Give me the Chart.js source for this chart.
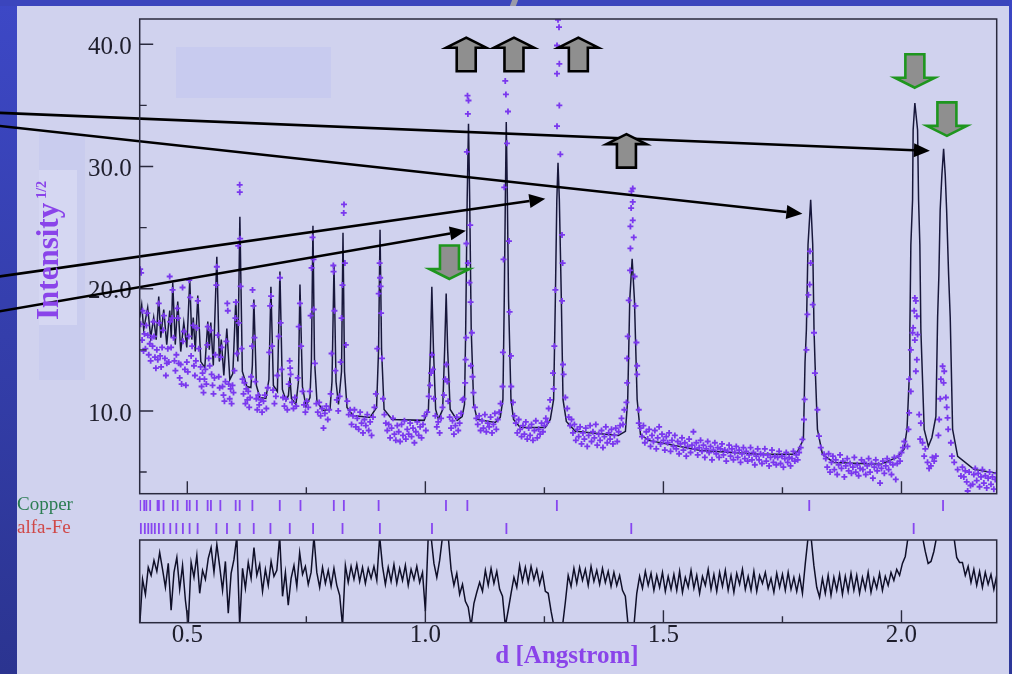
<!DOCTYPE html>
<html><head><meta charset="utf-8">
<script src="https://cdn.jsdelivr.net/npm/chart.js@4.4.1/dist/chart.umd.min.js"></script>
<style>
html,body{margin:0;padding:0;}
body{width:1012px;height:674px;position:relative;overflow:hidden;background:#d0d2ee;font-family:"Liberation Serif",serif;}
.deco{position:absolute;}
canvas{position:absolute;left:0;}
</style></head><body>
<div class="deco" style="left:0;top:0;width:17px;height:674px;background:linear-gradient(#3d48c6,#2b3490);"></div>
<div class="deco" style="left:0;top:0;width:1012px;height:6px;background:#3b45bd;"></div>
<div class="deco" style="left:1009px;top:0;width:3px;height:674px;background:linear-gradient(#3b46c4,#2d3798);"></div>
<div class="deco" style="left:176px;top:47px;width:155px;height:51px;background:#c8cbef;"></div>
<div class="deco" style="left:39px;top:133px;width:46px;height:247px;background:#c9ccee;"></div>
<div class="deco" style="left:39px;top:170px;width:38px;height:155px;background:#d5d7f2;"></div>
<div class="deco" style="left:511px;top:0;width:6px;height:6px;background:#9a9aa8;transform:skewX(-20deg);"></div>
<canvas id="cRefl" width="1012" height="46" style="top:494px;width:1012px;height:46px"></canvas>
<canvas id="cDiff" width="1012" height="144" style="top:530px;width:1012px;height:144px"></canvas>
<canvas id="cMain" width="1012" height="500" style="top:0;width:1012px;height:500px"></canvas>
<script>
// ---------- DATA (d in Angstrom, intensity^1/2) ----------
const yMajorTicks = [10, 20, 30, 40];
const yMinorTicks = [5, 15, 25, 35];
const xMajorTicks = [0.5, 1.0, 1.5, 2.0];
const xMinorTicks = [0.75, 1.25, 1.75];
const phaseNames = ['Copper', 'alfa-Fe'];

const copperRefl = [0.401,0.4095,0.414,0.422,0.4375,0.4403,0.450,0.4697,0.4796,0.499,0.505,0.520,0.5427,0.5496,0.5694,0.6016,0.610,0.6367,0.6942,0.7377,0.8077,0.8288,0.9018,1.0433,1.0882,1.2762,1.8063,2.0873];
const ironRefl = [0.4024,0.4108,0.418,0.4249,0.4318,0.4403,0.4501,0.4642,0.4769,0.4907,0.5048,0.5217,0.561,0.5833,0.610,0.6395,0.6746,0.7152,0.7642,0.826,0.9045,1.0139,1.1702,1.4325,2.0256];

const calcProfile = [
[0.400,17.64],[0.4042,18.70],[0.4084,16.66],[0.4168,18.46],[0.4231,16.00],[0.4294,17.64],[0.4347,15.84],[0.4400,19.36],[0.4442,16.00],[0.4505,18.29],
[0.4568,15.43],[0.4631,18.21],[0.4663,16.00],[0.4694,20.50],[0.4747,15.43],[0.4799,18.95],[0.4862,14.86],[0.4926,17.23],[0.4989,15.19],[0.5052,20.74],
[0.5094,15.84],[0.5125,17.64],[0.5167,14.86],[0.5220,19.44],[0.5283,14.04],[0.5367,13.55],[0.5430,17.31],[0.5462,15.02],[0.5493,17.23],[0.5546,13.72],
[0.5620,22.62],[0.5672,14.04],[0.5714,15.84],[0.5767,12.90],[0.5830,16.74],[0.5893,12.57],[0.5956,13.06],[0.6019,19.11],[0.6061,14.04],[0.6104,25.89],
[0.6156,13.23],[0.6251,12.00],[0.6335,11.92],[0.6366,13.72],[0.6398,19.11],[0.6451,12.08],[0.6524,11.10],[0.6650,11.02],[0.6714,12.57],[0.6756,20.17],
[0.6808,12.08],[0.6892,11.59],[0.6945,21.40],[0.6997,11.76],[0.7071,10.86],[0.7124,11.27],[0.7155,12.75],[0.7187,11.02],[0.7281,10.53],[0.7334,12.41],
[0.7366,20.34],[0.7418,12.00],[0.7492,10.37],[0.7576,11.10],[0.7607,14.21],[0.7639,25.16],[0.7671,14.21],[0.7723,10.78],[0.7849,10.04],[0.7997,10.12],
[0.8039,12.41],[0.8081,21.97],[0.8123,12.41],[0.8175,10.53],[0.8239,13.23],[0.8270,24.58],[0.8302,13.23],[0.8354,10.29],[0.8480,9.63],[0.8838,9.47],
[0.8975,10.29],[0.9017,15.02],[0.9048,24.83],[0.9080,15.02],[0.9133,10.12],[0.9301,9.31],[0.9974,9.23],[1.0064,10.12],[1.0106,15.02],[1.0136,20.17],
[1.0170,15.02],[1.0216,10.12],[1.0275,9.31],[1.0363,10.12],[1.0405,15.02],[1.0437,19.60],[1.0468,15.02],[1.0521,10.12],[1.0668,9.23],[1.0773,9.55],
[1.0822,10.53],[1.0847,16.66],[1.0878,27.28],[1.0906,33.49],[1.0931,27.28],[1.0963,16.66],[1.1015,10.53],[1.1089,9.31],[1.1467,9.06],[1.1573,9.47],
[1.1629,10.94],[1.1657,19.11],[1.1682,28.10],[1.1699,33.65],[1.1720,28.10],[1.1747,19.11],[1.1798,10.94],[1.1852,9.31],[1.1993,8.65],[1.2519,8.65],
[1.2624,9.31],[1.2694,10.94],[1.2730,19.11],[1.2761,27.28],[1.2786,30.30],[1.2814,27.28],[1.2856,19.11],[1.2891,10.94],[1.2961,9.14],[1.3150,8.33],
[1.4055,8.00],[1.4202,8.33],[1.4250,10.94],[1.4293,19.11],[1.4343,22.46],[1.4391,19.11],[1.4448,10.94],[1.4518,8.08],[1.4686,7.59],[1.5780,6.77],
[1.7042,6.45],[1.7715,6.45],[1.7820,6.69],[1.7940,7.67],[1.7974,13.96],[1.8003,16.66],[1.8037,23.60],[1.8093,27.28],[1.8136,23.60],[1.8163,16.66],
[1.8184,13.96],[1.8235,8.49],[1.8340,6.45],[1.8577,5.79],[1.9566,5.63],[1.9902,6.20],[2.0053,6.86],[2.0116,8.49],[2.0161,12.57],[2.0176,16.66],
[2.0197,23.60],[2.0233,27.28],[2.0245,33.00],[2.0281,35.20],[2.0338,33.00],[2.0359,27.28],[2.0386,23.60],[2.0407,16.66],[2.0477,8.49],[2.0565,7.10],
[2.0639,7.83],[2.0723,9.55],[2.0759,17.64],[2.0786,21.15],[2.0813,26.46],[2.0849,29.32],[2.0885,31.45],[2.0919,29.32],[2.0948,26.46],[2.0990,21.15],
[2.1024,17.64],[2.1074,8.49],[2.1180,6.28],[2.1522,5.22],[2.2021,4.89]
];

const obsPoints = [
[0.401,21.6],[0.402,17.1],[0.403,21.3],[0.405,15.8],[0.406,18.2],[0.408,14.9],[0.410,16.3],[0.412,15.1],[0.414,17.0],[0.416,18.0],
[0.417,16.2],[0.419,14.6],[0.421,15.5],[0.423,14.1],[0.425,16.0],[0.427,15.3],[0.429,17.3],[0.430,16.1],[0.432,14.4],[0.434,13.5],
[0.436,15.0],[0.438,14.2],[0.440,18.8],[0.441,17.2],[0.443,14.5],[0.445,13.6],[0.447,15.2],[0.449,16.6],[0.451,17.8],[0.453,14.3],
[0.455,12.9],[0.457,13.9],[0.459,15.1],[0.461,14.0],[0.463,21.0],[0.464,17.3],[0.466,15.2],[0.468,17.6],[0.469,19.9],[0.471,16.0],
[0.473,14.1],[0.475,13.3],[0.477,14.6],[0.479,18.4],[0.480,17.6],[0.482,13.9],[0.484,12.7],[0.486,13.8],[0.488,12.2],[0.490,20.1],
[0.491,15.7],[0.493,16.5],[0.495,13.4],[0.497,12.1],[0.499,14.0],[0.501,13.2],[0.503,16.1],[0.504,20.7],[0.506,19.3],[0.508,14.5],
[0.510,15.3],[0.512,17.0],[0.514,13.7],[0.516,12.9],[0.518,14.1],[0.520,16.8],[0.522,19.0],[0.524,15.1],[0.526,12.6],[0.528,13.6],
[0.530,12.0],[0.532,13.1],[0.534,11.5],[0.536,12.6],[0.538,13.4],[0.540,12.2],[0.542,15.4],[0.543,16.9],[0.545,14.3],[0.547,13.7],
[0.549,16.6],[0.551,13.0],[0.553,12.1],[0.555,11.4],[0.557,12.7],[0.559,14.6],[0.561,20.3],[0.562,21.8],[0.564,16.2],[0.566,12.8],
[0.568,11.9],[0.570,14.4],[0.572,15.2],[0.574,12.0],[0.576,11.3],[0.578,10.8],[0.580,12.4],[0.582,15.7],[0.584,18.8],[0.585,18.2],
[0.587,12.2],[0.589,11.0],[0.591,11.8],[0.593,10.6],[0.595,12.1],[0.597,11.5],[0.599,13.3],[0.601,17.6],[0.602,18.9],[0.604,14.7],
[0.607,23.5],[0.608,17.2],[0.610,28.5],[0.6102,27.9],[0.611,24.1],[0.612,20.2],[0.614,15.1],[0.616,12.6],[0.618,11.4],[0.620,12.3],
[0.622,10.6],[0.624,11.8],[0.626,10.9],[0.628,11.6],[0.630,10.3],[0.632,11.1],[0.634,12.8],[0.636,15.3],[0.637,19.9],[0.639,18.6],
[0.641,16.0],[0.643,12.4],[0.645,11.0],[0.647,10.1],[0.649,11.3],[0.651,10.5],[0.654,10.9],[0.657,9.9],[0.660,10.8],[0.663,11.3],
[0.666,10.2],[0.669,11.9],[0.672,14.8],[0.674,18.6],[0.676,19.4],[0.678,15.3],[0.680,11.7],[0.683,10.6],[0.686,11.2],[0.689,12.9],
[0.692,16.1],[0.6945,20.9],[0.696,17.2],[0.698,13.4],[0.701,11.1],[0.704,10.4],[0.707,11.0],[0.710,10.1],[0.713,12.2],[0.715,14.1],
[0.716,13.5],[0.717,13.0],[0.720,10.7],[0.723,10.2],[0.726,11.1],[0.729,10.4],[0.732,12.7],[0.734,16.9],[0.7366,18.8],[0.739,15.3],
[0.742,11.6],[0.745,10.5],[0.748,9.9],[0.751,10.8],[0.754,10.3],[0.757,11.6],[0.759,17.8],[0.761,21.7],[0.763,24.2],[0.765,22.4],
[0.7655,18.3],[0.768,13.9],[0.771,10.6],[0.774,9.9],[0.777,10.7],[0.780,9.6],[0.783,10.2],[0.786,8.6],[0.789,9.8],[0.792,10.4],
[0.795,9.3],[0.798,10.1],[0.801,11.4],[0.803,14.7],[0.8067,21.9],[0.8072,21.4],[0.809,18.2],[0.811,13.3],[0.814,10.9],[0.817,10.0],
[0.820,11.2],[0.822,14.0],[0.824,17.6],[0.826,20.3],[0.8285,26.2],[0.8291,26.9],[0.831,22.1],[0.833,15.4],[0.836,10.8],[0.839,9.7],
[0.842,10.1],[0.845,8.9],[0.848,9.6],[0.851,10.1],[0.854,8.7],[0.857,9.4],[0.860,8.5],[0.863,9.9],[0.866,9.0],[0.869,8.2],
[0.872,9.3],[0.875,8.8],[0.878,9.7],[0.881,8.4],[0.884,9.1],[0.887,8.0],[0.890,9.5],[0.893,10.3],[0.896,11.4],[0.899,15.1],
[0.902,19.6],[0.904,22.1],[0.905,20.9],[0.906,20.2],[0.907,18.0],[0.909,14.3],[0.911,11.0],[0.914,9.7],[0.917,9.0],[0.920,8.4],
[0.923,8.9],[0.926,7.8],[0.929,8.6],[0.932,9.4],[0.935,8.1],[0.938,7.6],[0.941,8.8],[0.944,8.3],[0.947,7.5],[0.950,8.9],
[0.953,8.0],[0.956,9.2],[0.959,7.7],[0.962,8.5],[0.965,8.1],[0.968,9.0],[0.971,7.9],[0.974,8.6],[0.977,7.4],[0.980,8.3],
[0.983,9.1],[0.986,8.0],[0.989,8.7],[0.992,7.8],[0.995,8.9],[0.998,9.6],[1.001,8.4],[1.004,9.9],[1.007,11.2],[1.010,12.1],
[1.012,13.1],[1.014,14.6],[1.016,13.4],[1.018,11.0],[1.021,9.6],[1.024,8.7],[1.027,9.1],[1.030,8.2],[1.033,9.4],[1.036,10.3],
[1.039,11.3],[1.042,12.6],[1.044,13.8],[1.046,12.4],[1.048,10.8],[1.051,9.5],[1.054,8.6],[1.057,9.2],[1.060,8.1],[1.063,8.8],
[1.066,9.5],[1.069,8.4],[1.072,9.0],[1.075,9.8],[1.078,10.9],[1.0801,11.0],[1.0836,12.3],[1.0845,14.2],[1.0857,16.0],[1.0862,23.7],
[1.0872,31.2],[1.0885,35.8],[1.0893,34.3],[1.0906,35.4],[1.0893,22.1],[1.0927,20.5],[1.0942,25.2],[1.0950,18.9],[1.0956,13.7],[1.0977,16.4],
[1.0990,12.8],[1.1011,11.5],[1.104,10.3],[1.107,9.4],[1.110,8.9],[1.113,9.6],[1.116,8.4],[1.119,9.2],[1.122,8.6],[1.125,9.7],
[1.128,8.3],[1.131,9.0],[1.134,8.7],[1.137,9.5],[1.140,8.2],[1.143,8.9],[1.146,9.8],[1.149,8.5],[1.152,9.3],[1.155,9.9],
[1.158,10.6],[1.1621,12.0],[1.1629,14.8],[1.1642,22.4],[1.1657,28.3],[1.1678,37.0],[1.1692,35.9],[1.1714,31.9],[1.1735,34.5],[1.1756,23.9],
[1.1769,18.1],[1.1798,14.5],[1.1804,12.0],[1.184,10.7],[1.187,9.6],[1.190,9.0],[1.193,8.2],[1.196,9.3],[1.199,8.5],[1.202,7.9],
[1.205,8.8],[1.208,8.1],[1.211,9.1],[1.214,7.7],[1.217,8.6],[1.220,8.0],[1.223,8.9],[1.226,7.6],[1.229,8.4],[1.232,9.2],
[1.235,7.8],[1.238,8.5],[1.241,8.1],[1.244,9.0],[1.247,8.3],[1.250,8.8],[1.253,9.4],[1.256,9.1],[1.259,10.2],[1.262,10.9],
[1.2681,13.1],[1.2694,11.8],[1.2709,15.3],[1.2730,19.9],[1.2765,39.9],[1.2765,33.3],[1.2786,42.0],[1.2807,41.4],[1.2814,38.4],[1.2765,37.6],
[1.2814,35.0],[1.2835,31.0],[1.2870,24.4],[1.2883,22.1],[1.2870,19.0],[1.2891,13.8],[1.2904,13.0],[1.2940,11.1],[1.298,10.2],[1.301,9.5],
[1.304,8.8],[1.307,9.3],[1.310,8.2],[1.313,8.9],[1.316,7.6],[1.319,8.5],[1.322,7.9],[1.325,8.7],[1.328,7.3],[1.331,8.2],
[1.334,7.7],[1.337,8.6],[1.340,7.1],[1.343,8.0],[1.346,8.8],[1.349,7.5],[1.352,8.3],[1.355,7.8],[1.358,8.9],[1.361,7.2],
[1.364,8.1],[1.367,7.6],[1.370,8.4],[1.373,7.0],[1.376,7.9],[1.379,8.7],[1.382,7.4],[1.385,8.2],[1.388,7.7],[1.391,8.5],
[1.394,7.3],[1.397,8.0],[1.400,8.6],[1.403,7.5],[1.406,8.3],[1.409,8.8],[1.412,9.4],[1.415,8.9],[1.418,10.1],[1.4223,10.7],
[1.4238,12.3],[1.4238,14.3],[1.4250,16.1],[1.4271,19.05],[1.4300,21.5],[1.4307,23.3],[1.4307,25.1],[1.4322,26.6],[1.4328,27.96],[1.4356,28.2],
[1.4356,27.1],[1.4356,25.6],[1.4377,24.2],[1.4395,21.0],[1.4412,18.6],[1.4433,15.6],[1.4448,13.7],[1.4448,13.0],[1.4482,10.1],[1.4482,9.0],
[1.452,8.6],[1.455,7.9],[1.458,8.8],[1.461,7.4],[1.464,8.3],[1.467,7.7],[1.470,8.5],[1.473,7.1],[1.476,8.0],[1.479,7.5],
[1.482,8.4],[1.485,6.9],[1.488,7.8],[1.491,8.7],[1.494,7.3],[1.497,8.1],[1.500,7.6],[1.503,6.8],[1.506,7.9],[1.509,7.4],
[1.512,8.2],[1.515,6.7],[1.518,7.6],[1.521,7.1],[1.524,8.0],[1.527,6.9],[1.530,7.5],[1.533,6.5],[1.536,7.3],[1.539,7.8],
[1.542,6.8],[1.545,7.4],[1.548,6.3],[1.551,7.1],[1.554,7.7],[1.557,6.6],[1.560,7.2],[1.563,8.3],[1.566,6.9],[1.569,7.4],
[1.572,6.4],[1.575,7.0],[1.578,7.6],[1.581,6.7],[1.584,7.2],[1.587,6.2],[1.590,6.9],[1.593,7.5],[1.596,6.6],[1.599,7.1],
[1.602,6.0],[1.605,6.8],[1.608,7.4],[1.611,6.5],[1.614,7.0],[1.617,6.2],[1.620,6.9],[1.623,7.3],[1.626,6.4],[1.629,6.8],
[1.632,5.9],[1.635,6.7],[1.638,7.2],[1.641,6.3],[1.644,6.9],[1.647,6.0],[1.650,6.6],[1.653,7.1],[1.656,6.2],[1.659,6.8],
[1.662,5.8],[1.665,6.5],[1.668,7.0],[1.671,6.1],[1.674,6.7],[1.677,5.9],[1.680,6.4],[1.683,7.0],[1.686,6.0],[1.689,6.6],
[1.692,5.6],[1.695,6.3],[1.698,6.9],[1.701,6.0],[1.704,6.5],[1.707,5.7],[1.710,6.4],[1.713,6.9],[1.716,5.9],[1.719,6.4],
[1.722,5.5],[1.725,6.2],[1.728,6.8],[1.731,5.8],[1.734,6.3],[1.737,5.6],[1.740,6.2],[1.743,6.7],[1.746,5.7],[1.749,6.3],
[1.752,5.4],[1.755,6.1],[1.758,6.6],[1.761,5.8],[1.764,6.2],[1.767,5.5],[1.770,6.1],[1.773,6.7],[1.776,5.9],[1.779,6.4],
[1.782,6.0],[1.785,6.6],[1.7883,7.0],[1.7919,7.67],[1.7953,9.3],[1.7967,10.94],[1.8003,15.0],[1.8024,17.9],[1.8045,19.5],[1.8072,20.34],
[1.8079,23.06],[1.8093,22.1],[1.8136,18.7],[1.8163,16.4],[1.8182,13.1],[1.8235,10.1],[1.8268,7.94],[1.8305,7.0],[1.8374,6.45],[1.841,6.1],
[1.844,5.4],[1.847,6.5],[1.850,5.0],[1.853,5.8],[1.856,6.3],[1.859,5.2],[1.862,6.0],[1.865,4.8],[1.868,5.6],[1.871,6.4],
[1.874,5.3],[1.877,5.9],[1.880,4.6],[1.883,5.5],[1.886,6.1],[1.889,5.1],[1.892,5.7],[1.895,4.9],[1.898,5.4],[1.901,6.2],
[1.904,5.0],[1.907,5.6],[1.910,4.7],[1.913,5.3],[1.916,6.0],[1.919,5.2],[1.922,5.8],[1.925,4.8],[1.928,5.5],[1.931,6.1],
[1.934,5.0],[1.937,5.7],[1.940,4.5],[1.943,5.4],[1.946,6.0],[1.949,5.1],[1.952,5.6],[1.955,4.1],[1.958,5.3],[1.961,5.9],
[1.964,4.9],[1.967,5.5],[1.970,6.1],[1.973,5.2],[1.976,5.8],[1.979,4.8],[1.982,5.6],[1.985,6.2],[1.988,4.4],[1.991,5.7],
[1.994,6.3],[1.997,5.9],[2.000,6.6],[2.003,7.0],[2.006,7.5],[2.0126,7.1],[2.0147,8.5],[2.0161,9.85],[2.0161,12.6],[2.0197,15.0],
[2.0197,11.6],[2.0233,16.4],[2.0245,16.8],[2.0267,18.2],[2.0281,19.25],[2.0281,15.8],[2.0302,19.0],[2.0302,13.25],[2.0323,17.75],[2.0323,14.2],
[2.0338,16.25],[2.0372,9.7],[2.0393,7.7],[2.0407,9.0],[2.0442,7.4],[2.0477,6.3],[2.050,6.9],[2.0547,5.8],[2.058,5.3],[2.0617,5.5],
[2.065,6.2],[2.0687,5.9],[2.0723,6.3],[2.0776,8.0],[2.0792,9.3],[2.0815,11.0],[2.0828,12.6],[2.0864,13.66],[2.0885,12.3],[2.0898,13.25],
[2.0933,11.1],[2.0950,10.3],[2.0968,9.44],[2.0981,8.5],[2.1038,7.4],[2.1059,6.3],[2.1108,5.8],[2.1180,5.2],[2.1249,4.67],[2.128,5.4],
[2.131,4.6],[2.134,5.1],[2.137,4.2],[2.1390,3.45],[2.142,5.0],[2.145,3.9],[2.1495,4.0],[2.152,4.8],[2.155,5.3],[2.158,4.3],
[2.161,4.9],[2.164,3.8],[2.167,4.6],[2.170,5.2],[2.173,4.1],[2.176,4.7],[2.179,3.7],[2.182,4.5],[2.185,5.0],[2.188,4.0],
[2.191,4.6],[2.194,3.6],[2.197,4.4],[2.200,4.9]
];

const diffProfile = [
[0.400,-4.5],[0.406,0.2],[0.412,-1.3],[0.418,1.4],[0.424,0.6],[0.430,2.1],[0.436,1.0],[0.442,2.9],[0.448,1.2],[0.454,-0.6],
[0.460,1.8],[0.466,-2.9],[0.472,0.9],[0.478,2.4],[0.484,-0.8],[0.490,1.6],[0.496,-1.9],[0.502,-4.3],[0.508,1.9],[0.514,0.4],
[0.520,2.6],[0.526,-1.2],[0.532,1.1],[0.538,0.2],[0.544,2.3],[0.550,3.4],[0.556,0.9],[0.562,3.7],[0.568,1.5],[0.574,-0.9],
[0.580,2.0],[0.586,-3.2],[0.592,0.8],[0.598,2.2],[0.604,4.5],[0.610,-4.5],[0.616,1.3],[0.622,-0.7],[0.628,1.9],[0.634,0.3],
[0.640,3.4],[0.646,0.6],[0.652,1.7],[0.658,-1.0],[0.664,1.2],[0.670,-0.4],[0.676,2.0],[0.682,0.5],[0.688,1.1],[0.694,4.5],
[0.700,-1.5],[0.706,0.9],[0.712,-2.4],[0.718,0.3],[0.724,1.6],[0.730,-0.5],[0.736,2.9],[0.742,0.7],[0.748,1.5],[0.754,-0.3],
[0.760,0.9],[0.766,4.5],[0.772,0.9],[0.778,-0.6],[0.784,1.4],[0.790,-0.2],[0.796,1.1],[0.802,-0.5],[0.808,1.3],[0.814,-0.4],
[0.820,-1.4],[0.826,-4.5],[0.832,1.6],[0.838,-0.1],[0.844,1.5],[0.850,0.2],[0.856,1.7],[0.862,0.0],[0.868,1.4],[0.874,-0.2],
[0.880,1.3],[0.886,0.3],[0.892,1.5],[0.898,0.1],[0.904,4.5],[0.910,1.5],[0.916,-0.3],[0.922,1.4],[0.928,0.0],[0.934,1.7],
[0.940,-0.2],[0.946,1.3],[0.952,0.1],[0.958,1.6],[0.964,-0.4],[0.970,1.2],[0.976,0.2],[0.982,1.5],[0.988,-0.1],[0.994,0.9],
[1.000,-3.0],[1.006,4.5],[1.012,4.5],[1.018,1.8],[1.024,0.4],[1.030,2.1],[1.036,4.5],[1.042,4.5],[1.048,4.5],[1.054,1.2],
[1.060,-0.4],[1.066,0.8],[1.072,-1.3],[1.078,-0.3],[1.084,-2.0],[1.090,-2.6],[1.096,-4.5],[1.102,-2.2],[1.108,-1.1],[1.114,-0.1],
[1.120,-1.0],[1.126,1.1],[1.132,-0.4],[1.138,1.3],[1.144,-0.2],[1.150,1.0],[1.156,-0.8],[1.162,-1.5],[1.168,-4.5],[1.174,-2.9],
[1.180,-1.2],[1.186,0.4],[1.192,-0.6],[1.198,1.6],[1.204,0.0],[1.210,1.4],[1.216,-0.1],[1.222,1.5],[1.228,0.2],[1.234,1.2],
[1.240,-0.3],[1.246,0.8],[1.252,-1.0],[1.258,-1.2],[1.264,-3.0],[1.270,-4.5],[1.276,-4.5],[1.282,-4.5],[1.288,-4.5],[1.294,-2.1],
[1.300,0.6],[1.306,-0.5],[1.312,1.3],[1.318,-0.2],[1.324,1.4],[1.330,0.1],[1.336,1.2],[1.342,-0.4],[1.348,1.5],[1.354,0.0],
[1.360,1.1],[1.366,-0.3],[1.372,1.3],[1.378,-0.1],[1.384,1.0],[1.390,-0.5],[1.396,0.9],[1.402,-0.4],[1.408,0.6],[1.414,-0.9],
[1.420,-1.5],[1.426,-4.5],[1.432,-4.5],[1.438,-4.5],[1.444,-1.2],[1.450,0.5],[1.456,-0.7],[1.462,1.0],[1.468,-0.4],[1.474,0.8],
[1.480,-0.9],[1.486,0.6],[1.492,-0.6],[1.498,0.9],[1.504,-1.0],[1.510,0.5],[1.516,-0.8],[1.522,0.7],[1.528,-0.9],[1.534,1.0],
[1.540,-1.1],[1.546,0.4],[1.552,-0.6],[1.558,1.1],[1.564,-0.7],[1.570,0.6],[1.576,-1.2],[1.582,0.5],[1.588,-0.4],[1.594,1.2],
[1.600,-0.8],[1.606,0.7],[1.612,-1.0],[1.618,0.9],[1.624,-0.5],[1.630,1.1],[1.636,-0.9],[1.642,0.6],[1.648,-1.1],[1.654,0.8],
[1.660,-0.3],[1.666,1.2],[1.672,-0.8],[1.678,0.5],[1.684,-0.9],[1.690,1.0],[1.696,-1.0],[1.702,0.6],[1.708,-0.2],[1.714,0.9],
[1.720,-0.7],[1.726,0.3],[1.732,-1.1],[1.738,0.8],[1.744,-0.6],[1.750,0.7],[1.756,-0.9],[1.762,0.9],[1.768,-0.8],[1.774,0.4],
[1.780,-1.0],[1.786,0.5],[1.792,-1.2],[1.798,1.8],[1.804,4.5],[1.810,4.5],[1.816,1.6],[1.822,-0.6],[1.828,-1.6],[1.834,0.3],
[1.840,-1.2],[1.846,0.6],[1.852,-1.4],[1.858,0.4],[1.864,-0.9],[1.870,0.7],[1.876,-1.3],[1.882,0.5],[1.888,-1.0],[1.894,0.8],
[1.900,-0.9],[1.906,0.6],[1.912,-1.2],[1.918,0.4],[1.924,-0.8],[1.930,0.9],[1.936,-1.1],[1.942,0.3],[1.948,-0.7],[1.954,0.8],
[1.960,-0.9],[1.966,0.5],[1.972,-0.4],[1.978,0.9],[1.984,0.1],[1.990,1.2],[1.996,0.6],[2.002,1.8],[2.008,2.5],[2.014,4.5],
[2.020,4.5],[2.026,4.5],[2.032,4.5],[2.038,4.5],[2.044,4.5],[2.050,3.0],[2.056,1.8],[2.062,2.0],[2.068,3.0],[2.074,4.5],
[2.080,4.5],[2.086,4.5],[2.092,4.5],[2.098,4.5],[2.104,4.5],[2.110,4.5],[2.116,2.4],[2.122,1.9],[2.128,1.9],[2.134,0.6],
[2.140,1.5],[2.146,-0.1],[2.152,1.2],[2.158,-0.4],[2.164,1.0],[2.170,-0.6],[2.176,0.9],[2.182,-0.3],[2.188,0.7],[2.194,-0.8],
[2.200,0.6]
];

// annotation arrows, in data coordinates [d0, I0, d1, I1]
const lineArrows = [
  [0.1055, 34.39, 2.0597, 31.28],
  [0.1055, 33.32, 1.7919, 26.14],
  [0.1055, 21.01, 1.2519, 27.36],
  [0.1055, 18.15, 1.0851, 24.75]
];
const upArrowTips = [[1.0858, 40.54], [1.1861, 40.54], [1.3213, 40.54], [1.4223, 32.65]];
const downArrowTips = [[1.0506, 20.80], [2.0281, 36.45], [2.0954, 32.51]];

// ---------- RENDER ----------
const SERIF = '"Liberation Serif", "Times New Roman", serif';
const PURPLE = '#8a44ea';
const toXY = arr => arr.map(([x, y]) => ({x, y}));
const noEdgePad = s => { s.paddingTop = 0; s.paddingBottom = 0; };

function drawFrame(chart, withY) {
  const {ctx, chartArea: a, scales} = chart;
  ctx.save();
  ctx.strokeStyle = '#2a2a3e';
  ctx.lineWidth = 1.5;
  ctx.strokeRect(a.left, a.top, a.right - a.left, a.bottom - a.top);
  ctx.lineWidth = 1.4;
  ctx.beginPath();
  xMajorTicks.forEach(v => { const p = scales.x.getPixelForValue(v); ctx.moveTo(p, a.bottom); ctx.lineTo(p, a.bottom - 12.5); });
  xMinorTicks.forEach(v => { const p = scales.x.getPixelForValue(v); ctx.moveTo(p, a.bottom); ctx.lineTo(p, a.bottom - 6.5); });
  if (withY) {
    yMajorTicks.forEach(v => { const p = scales.y.getPixelForValue(v); ctx.moveTo(a.left, p); ctx.lineTo(a.left + 13.5, p); });
    yMinorTicks.forEach(v => { const p = scales.y.getPixelForValue(v); ctx.moveTo(a.left, p); ctx.lineTo(a.left + 7, p); });
  }
  ctx.stroke();
  ctx.restore();
}

const mainDecor = {
  id: 'mainDecor',
  afterDatasetsDraw(chart) {
    const {ctx, scales} = chart;
    const X = v => scales.x.getPixelForValue(v), Y = v => scales.y.getPixelForValue(v);
    ctx.save();
    lineArrows.forEach(([d0, i0, d1, i1]) => {
      const x0 = X(d0), y0 = Y(i0), x1 = X(d1), y1 = Y(i1);
      const ang = Math.atan2(y1 - y0, x1 - x0), L = 16, W = 7;
      const bx = x1 - L * Math.cos(ang), by = y1 - L * Math.sin(ang);
      ctx.beginPath(); ctx.moveTo(x0, y0); ctx.lineTo(bx, by);
      ctx.lineWidth = 2.6; ctx.strokeStyle = '#000'; ctx.stroke();
      ctx.beginPath(); ctx.moveTo(x1, y1);
      ctx.lineTo(bx - W * Math.sin(ang), by + W * Math.cos(ang));
      ctx.lineTo(bx + W * Math.sin(ang), by - W * Math.cos(ang));
      ctx.closePath(); ctx.fillStyle = '#000'; ctx.fill();
    });
    ctx.lineJoin = 'miter';
    const block = (tx, ty, s, stroke) => {
      ctx.beginPath();
      ctx.moveTo(tx, ty);
      ctx.lineTo(tx + 20, ty - s * 10);
      ctx.lineTo(tx + 9.5, ty - s * 10);
      ctx.lineTo(tx + 9.5, ty - s * 33.5);
      ctx.lineTo(tx - 9.5, ty - s * 33.5);
      ctx.lineTo(tx - 9.5, ty - s * 10);
      ctx.lineTo(tx - 20, ty - s * 10);
      ctx.closePath();
      ctx.fillStyle = '#8f8f8f'; ctx.fill();
      ctx.lineWidth = 2.6; ctx.strokeStyle = stroke; ctx.stroke();
    };
    upArrowTips.forEach(([d, i]) => block(X(d), Y(i), -1, '#000'));
    downArrowTips.forEach(([d, i]) => block(X(d), Y(i), 1, '#1e961e'));
    ctx.restore();
  },
  afterDraw(chart) {
    drawFrame(chart, true);
    const ctx = chart.ctx;
    ctx.save();
    ctx.translate(58, 320);
    ctx.rotate(-Math.PI / 2);
    ctx.fillStyle = PURPLE;
    ctx.textAlign = 'left'; ctx.textBaseline = 'alphabetic';
    ctx.font = 'bold 31px ' + SERIF;
    ctx.fillText('Intensity', 0, 0);
    const w = ctx.measureText('Intensity').width;
    ctx.font = 'bold 14px ' + SERIF;
    ctx.fillText('1/2', w + 4, -12);
    ctx.restore();
  }
};

const diffDecor = {
  id: 'diffDecor',
  afterDraw(chart) {
    drawFrame(chart, false);
    const ctx = chart.ctx;
    ctx.save();
    ctx.fillStyle = PURPLE;
    ctx.font = 'bold 25px ' + SERIF;
    ctx.textAlign = 'center'; ctx.textBaseline = 'middle';
    ctx.fillText('d [Angstrom]', 567, 127);
    ctx.restore();
  }
};

const common = {responsive: false, animation: false, devicePixelRatio: 1, events: [],
  plugins: {legend: {display: false}, tooltip: {enabled: false}}};
const xHidden = {type: 'linear', min: 0.4, max: 2.2, display: false};

new Chart(document.getElementById('cMain'), {
  type: 'scatter',
  data: {datasets: [
    {data: toXY(obsPoints), pointStyle: 'cross', pointRadius: 3, borderColor: '#7a38ee', backgroundColor: '#7a38ee', borderWidth: 1.8, showLine: false},
    {data: toXY(calcProfile), showLine: true, pointRadius: 0, borderColor: '#17173a', borderWidth: 1.5, tension: 0}
  ]},
  options: Object.assign({}, common, {
    layout: {autoPadding: false, padding: {top: 19, right: 15.3, bottom: 6.3, left: 0}},
    scales: {
      x: xHidden,
      y: {type: 'linear', min: 3.23, max: 42.07,
        grid: {display: false, drawTicks: false}, border: {display: false},
        afterFit(s) { s.width = 139.7; noEdgePad(s); },
        afterBuildTicks(s) { s.ticks = yMajorTicks.map(v => ({value: v})); },
        ticks: {padding: 8, labelOffset: 3, color: '#1e1e2c', font: {family: SERIF, size: 25}, callback: v => Number(v).toFixed(1)}}
    }
  }),
  plugins: [mainDecor]
});

new Chart(document.getElementById('cRefl'), {
  type: 'scatter',
  data: {datasets: [
    {data: copperRefl.map(d => ({x: d, y: phaseNames[0]})), pointStyle: 'line', rotation: 90, pointRadius: 5.5, borderColor: '#8746f0', borderWidth: 1.8},
    {data: ironRefl.map(d => ({x: d, y: phaseNames[1]})), pointStyle: 'line', rotation: 90, pointRadius: 5.5, borderColor: '#8746f0', borderWidth: 1.8}
  ]},
  options: Object.assign({}, common, {
    layout: {autoPadding: false, padding: {top: 0, right: 15.3, bottom: 0, left: 17}},
    scales: {
      x: xHidden,
      y: {type: 'category', labels: phaseNames, offset: true,
        grid: {display: false, drawTicks: false}, border: {display: false},
        afterFit(s) { s.width = 122.7; noEdgePad(s); },
        ticks: {crossAlign: 'far', padding: 0, autoSkip: false, font: {family: SERIF, size: 19},
          color: c => (c.index === 0 ? '#2b7d52' : '#d04848')}}
    }
  })
});

new Chart(document.getElementById('cDiff'), {
  type: 'scatter',
  data: {datasets: [
    {data: toXY(diffProfile), showLine: true, pointRadius: 0, borderColor: '#0f0f28', borderWidth: 1.5, tension: 0}
  ]},
  options: Object.assign({}, common, {
    layout: {autoPadding: false, padding: {top: 10, right: 15.3, bottom: 0, left: 0}},
    scales: {
      x: {type: 'linear', min: 0.4, max: 2.2, position: 'bottom',
        grid: {display: false, drawTicks: false}, border: {display: false},
        afterFit(s) { s.height = 51.3; s.paddingLeft = 0; s.paddingRight = 0; },
        afterBuildTicks(s) { s.ticks = xMajorTicks.map(v => ({value: v})); },
        ticks: {padding: 0, maxRotation: 0, autoSkip: false, color: '#1e1e2c',
          font: {family: SERIF, size: 25, lineHeight: 1}, callback: v => Number(v).toFixed(1)}},
      y: {type: 'linear', min: -4.15, max: 4.15,
        grid: {display: false, drawTicks: false}, border: {display: false}, ticks: {display: false},
        afterFit(s) { s.width = 139.7; noEdgePad(s); }}
    }
  }),
  plugins: [diffDecor]
});
</script>
</body></html>
